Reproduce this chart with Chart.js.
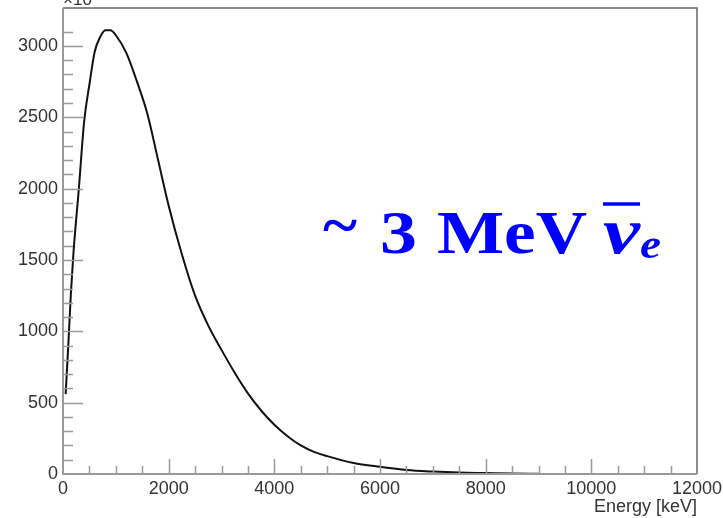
<!DOCTYPE html>
<html>
<head>
<meta charset="utf-8">
<script src="https://cdn.jsdelivr.net/npm/chart.js@4"></script>
<style>
  html, body { margin: 0; padding: 0; background: #fff; }
  #wrap { width: 723px; height: 518px; position: relative; }
</style>
</head>
<body>
<div id="wrap"><canvas id="spectrumChart"></canvas></div>
<script>
// antineutrino energy spectrum
const energy = [50, 100, 150, 200, 300, 400, 500, 600, 700, 800, 900, 1000, 1200, 1400, 1600, 1800, 2000,
                2250, 2500, 2750, 3000, 3250, 3500, 3750, 4000, 4250, 4500, 4750, 5000, 5500, 6000,
                6500, 7000, 7500, 8000, 8500, 9000];
const counts = [560, 900, 1270, 1560, 2000, 2470, 2730, 2960, 3060, 3110, 3110, 3075, 2950, 2750, 2520, 2200, 1880,
                1540, 1250, 1040, 870, 710, 565, 445, 345, 265, 200, 155, 125, 77, 50,
                28, 17, 10, 7, 4, 2];
const xMax = 12000;
const yMax = 3266;
const xLabelStep = 2000;
const yLabelStep = 500;

const labelFont = { family: '"Liberation Sans", Arial, sans-serif', size: 18 };

// ROOT style frame + ticks drawn inward
const frameTicks = {
    id: 'frameTicks',
    afterDatasetsDraw(chart) {
        const { ctx, chartArea: { left, right, top, bottom }, scales: { x, y } } = chart;
        ctx.save();
        ctx.strokeStyle = '#666';
        ctx.lineWidth = 1.5;
        ctx.beginPath();
        ctx.moveTo(left, top); ctx.lineTo(right, top); ctx.lineTo(right, bottom);
        ctx.stroke();

        ctx.strokeStyle = '#999';
        ctx.lineWidth = 2;
        ctx.beginPath();
        ctx.moveTo(left, top); ctx.lineTo(left, bottom); ctx.lineTo(right, bottom);
        ctx.stroke();

        ctx.lineWidth = 1.5;
        ctx.beginPath();
        y.ticks.forEach(t => {
            if (t.value <= 0) return;
            const py = Math.round(y.getPixelForValue(t.value)) + 0.5;
            const len = t.value % yLabelStep === 0 ? 20 : 10;
            ctx.moveTo(left, py); ctx.lineTo(left + len, py);
        });
        x.ticks.forEach(t => {
            if (t.value <= 0 || t.value >= xMax) return;
            const px = Math.round(x.getPixelForValue(t.value)) + 0.5;
            const len = t.value % xLabelStep === 0 ? 15 : 8;
            ctx.moveTo(px, bottom); ctx.lineTo(px, bottom - len);
        });
        ctx.stroke();

        // exponent label, cut at the top like the original
        ctx.fillStyle = '#333';
        ctx.font = '17px "Liberation Sans", Arial, sans-serif';
        ctx.textBaseline = 'alphabetic';
        ctx.fillText('\u00d710', left, 5);
        ctx.restore();
    }
};

function stretchText(ctx, text, x, y, width) {
    const w = ctx.measureText(text).width;
    ctx.save();
    ctx.translate(x, y);
    ctx.scale(width / w, 1);
    ctx.fillText(text, 0, 0);
    ctx.restore();
}

// big blue label
const nuLabel = {
    id: 'nuLabel',
    afterDraw(chart) {
        const ctx = chart.ctx;
        ctx.save();
        ctx.fillStyle = '#0000ff';
        ctx.strokeStyle = '#0000ff';
        ctx.textBaseline = 'alphabetic';
        ctx.font = 'bold 62px "Liberation Serif", "DejaVu Serif", serif';
        stretchText(ctx, '~', 323, 245, 34);
        stretchText(ctx, '3', 380, 253, 37);
        stretchText(ctx, 'MeV', 437, 253, 150);
        ctx.font = 'italic bold 66px "Liberation Serif", "DejaVu Serif", serif';
        stretchText(ctx, '\u03bd', 603, 253, 37);
        ctx.font = 'italic bold 40px "Liberation Serif", "DejaVu Serif", serif';
        stretchText(ctx, 'e', 640, 258, 21);
        ctx.lineWidth = 3.5;
        ctx.beginPath();
        ctx.moveTo(603, 204); ctx.lineTo(640, 204);
        ctx.stroke();
        ctx.restore();
    }
};

const ctxSpectrum = document.getElementById('spectrumChart').getContext('2d');
const spectrumChart = new Chart(ctxSpectrum, {
    type: 'line',
    data: {
        datasets: [{
            data: energy.map((e, i) => ({ x: e, y: counts[i] })),
            borderColor: '#111',
            borderWidth: 2,
            pointRadius: 0,
            cubicInterpolationMode: 'monotone',
            fill: false
        }]
    },
    options: {
        responsive: true,
        maintainAspectRatio: false,
        animation: false,
        layout: { padding: { top: 8, right: 26, left: 0, bottom: 0 } },
        plugins: { legend: { display: false }, tooltip: { enabled: false } },
        scales: {
            x: {
                type: 'linear',
                min: 0,
                max: xMax,
                grid: { display: false, drawTicks: false, tickLength: 0 },
                border: { display: false },
                afterFit: s => { s.height = 44; s.paddingLeft = 0; s.paddingRight = 0; },
                afterBuildTicks: s => { s.ticks = s.ticks.filter(t => t.value % 500 === 0); },
                ticks: {
                    stepSize: 500,
                    autoSkip: false,
                    maxRotation: 0,
                    padding: 4,
                    color: '#333',
                    font: labelFont,
                    callback: v => (v % xLabelStep === 0 ? String(v) : '')
                },
                title: {
                    display: true,
                    text: 'Energy [keV]',
                    align: 'end',
                    color: '#333',
                    font: labelFont,
                    padding: { top: 0, bottom: 0 }
                }
            },
            y: {
                min: 0,
                max: yMax,
                grid: { display: false, drawTicks: false, tickLength: 0 },
                border: { display: false },
                afterFit: s => { s.width = 63; s.paddingTop = 0; s.paddingBottom = 0; },
                afterBuildTicks: s => { s.ticks = s.ticks.filter(t => t.value % 100 === 0); },
                ticks: {
                    stepSize: 100,
                    autoSkip: false,
                    padding: 5,
                    color: '#333',
                    font: labelFont,
                    callback: v => (v % yLabelStep === 0 ? String(v) : '')
                }
            }
        }
    },
    plugins: [frameTicks, nuLabel]
});
</script>
</body>
</html>
